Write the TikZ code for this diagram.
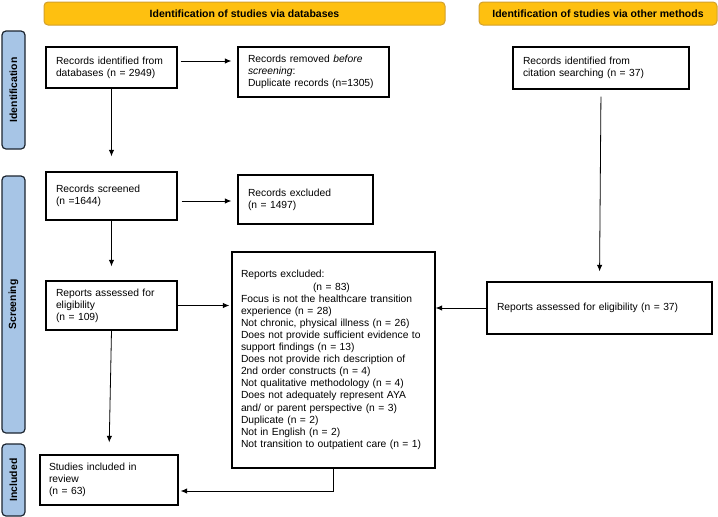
\documentclass[tikz,border=0pt]{standalone}
\usepackage{fontspec}
\setmainfont{Liberation Sans}
\usetikzlibrary{arrows.meta,positioning,calc}
\definecolor{bannerFill}{HTML}{FEC010}
\definecolor{bannerLine}{HTML}{D2A02C}
\definecolor{phaseFill}{HTML}{A7C5E6}
\definecolor{phaseLine}{HTML}{1C2530}

\begin{document}
\begin{tikzpicture}[x=1pt,y=-1pt,>={Latex[length=6.5pt,width=5.5pt]},font=\fontsize{10.3}{12.1}\selectfont]
\tikzstyle{box}=[draw=black, line width=1.4pt, align=left, inner xsep=10pt, inner ysep=0pt]
\tikzstyle{banner}=[draw=bannerLine, fill=bannerFill, rounded corners=4pt, line width=1pt, font=\fontsize{10.5}{12}\selectfont\bfseries]
\tikzstyle{phase}=[draw=phaseLine, fill=phaseFill, rounded corners=4pt, line width=1.2pt, rotate=90, font=\fontsize{10.4}{12}\selectfont\bfseries]
\tikzstyle{edge}=[->, line width=0.8pt]
\useasboundingbox (0,0) rectangle (718,517);

% headers
\node[banner, minimum width=401pt, minimum height=23pt] (hdb) at (244.5,13.5) {Identification of studies via databases};
\node[banner, minimum width=238pt, minimum height=23pt] (hoth) at (598,13.5) {Identification of studies via other methods};

% phases
\node[phase, minimum width=118pt, minimum height=23pt] (pid) at (13.5,90) {Identification};
\node[phase, minimum width=257pt, minimum height=23pt] (pscr) at (13.5,304.5) {Screening};
\node[phase, minimum width=72pt, minimum height=23pt] (pinc) at (13.5,480) {Included};

% databases
\node[box, minimum width=131pt, minimum height=41pt, text width=111pt] (db) at (111.5,67.5) {Records identified from\\databases (n = 2949)};
\node[box, minimum width=151pt, minimum height=50pt, text width=131pt] (removed) at (313.5,72) {Records removed \textit{before}\\\textit{screening}:\\Duplicate records (n=1305)};
\node[box, minimum width=131pt, minimum height=48pt, text width=111pt] (screened) at (111.5,196) {Records screened\\(n =1644)};
\node[box, minimum width=135pt, minimum height=49pt, text width=115pt] (excluded) at (305.5,199.5) {Records excluded\\(n = 1497)};
\node[box, minimum width=131pt, minimum height=49pt, text width=111pt] (assessed) at (111.5,305.5) {Reports assessed for\\eligibility\\(n = 109)};
\node[box, inner xsep=9pt, minimum width=203pt, minimum height=216pt, text width=185pt] (excl) at (333.5,360) {Reports excluded:\\\hspace*{72pt}(n = 83)\\Focus is not the healthcare transition\\experience (n = 28)\\Not chronic, physical illness (n = 26)\\Does not provide sufficient evidence to\\support findings (n = 13)\\Does not provide rich description of\\2nd order constructs (n = 4)\\Not qualitative methodology (n = 4)\\Does not adequately represent AYA\\and/ or parent perspective (n = 3)\\Duplicate (n = 2)\\Not in English (n = 2)\\Not transition to outpatient care (n = 1)};
\node[box, inner xsep=9pt, minimum width=138pt, minimum height=50pt, text width=120pt] (included) at (109,480) {Studies included in\\review\\(n = 63)};

% other methods
\node[box, minimum width=176pt, minimum height=42pt, text width=156pt] (citation) at (601,68) {Records identified from\\citation searching (n = 37)};
\node[box, minimum width=225pt, minimum height=52pt, text width=205pt] (rep37) at (599.5,308) {Reports assessed for eligibility (n = 37)};

% flow
\draw[edge, shorten <=3pt, shorten >=6pt] ([yshift=6.5pt]db.east) -- ([yshift=6.5pt]db.east -| removed.west);
\draw[edge, shorten >=15pt] (db.south) -- (screened.north);
\draw[edge, shorten <=4pt, shorten >=6pt] ([yshift=-5pt]screened.east) -- ([yshift=-5pt]screened.east -| excluded.west);
\draw[edge, shorten >=14pt] (screened.south) -- (assessed.north);
\draw[edge, shorten >=2pt] (assessed.east) -- (assessed.east -| excl.west);
\draw[edge, shorten >=12pt] (assessed.south) -- (included.north);
\draw[edge, shorten >=2pt] (excl.south) |- ([yshift=-11pt]included.east);
\draw[edge, shorten <=7pt, shorten >=10pt] (citation.south) -- (rep37.north);
\draw[edge] (rep37.west) -- (rep37.west -| excl.east);
\end{tikzpicture}
\end{document}
